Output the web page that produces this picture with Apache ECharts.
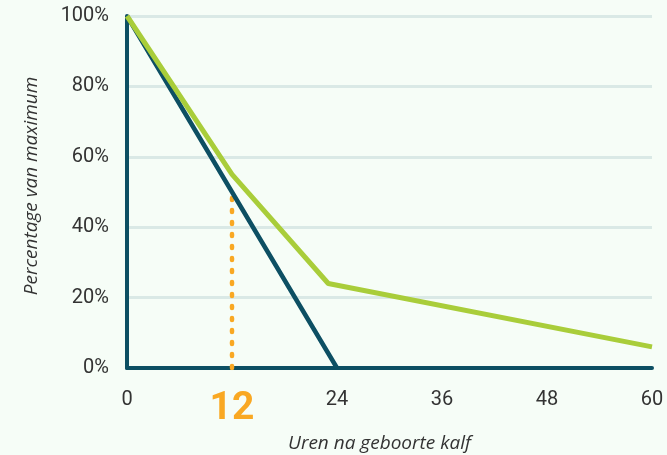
<!DOCTYPE html>
<html><head><meta charset="utf-8">
<script src="https://cdn.jsdelivr.net/npm/echarts@6/dist/echarts.min.js"></script>
<style>html,body{margin:0;padding:0;background:#f6fdf7;}#c{width:667px;height:455px;}</style>
</head><body><div id="c"></div>
<script>
const xTicks = [0, 12, 24, 36, 48, 60];
const yTicks = [0, 20, 40, 60, 80, 100];
const darkHours = [0, 12, 24];
const darkValues = [100, 50, 0];
const greenHours = [0, 12, 23, 60];
const greenValues = [100, 55, 24, 6];
const markerHour = 12;
const markerValues = [0, 49];

const labelFont = "'Roboto', sans-serif";
const chart = echarts.init(document.getElementById('c'));
chart.setOption({
  backgroundColor: '#f6fdf7',
  animation: false,
  grid: {left: 127, right: 15, top: 16, bottom: 87, outerBoundsMode: 'none', containLabel: false},
  xAxis: {
    type: 'value', min: 0, max: 60, interval: 12,
    name: 'Uren na geboorte kalf', nameLocation: 'middle', nameGap: 52,
    nameTextStyle: {fontStyle: 'italic', fontSize: 19, color: '#333', fontFamily: 'Open Sans', padding: [0, 20, 0, 0]},
    axisLine: {show: true, lineStyle: {color: '#0d4f63', width: 4}},
    axisTick: {show: false},
    splitLine: {show: false},
    axisLabel: {
      margin: 22, color: '#333', fontSize: 20, fontFamily: labelFont,
      formatter: v => v === markerHour ? '{o|' + v + '}' : String(v),
      rich: {o: {color: '#f9a823', fontSize: 39, fontWeight: 'bold', fontFamily: 'Roboto'}}
    }
  },
  yAxis: {
    type: 'value', min: 0, max: 100, interval: 20,
    name: 'Percentage van maximum', nameLocation: 'middle', nameGap: 86,
    nameTextStyle: {fontStyle: 'italic', fontSize: 19, color: '#333', fontFamily: 'Open Sans', padding: [0, 0, 0, 12]},
    axisLine: {show: true, lineStyle: {color: '#0d4f63', width: 4}},
    axisTick: {show: false},
    axisLabel: {margin: 18, color: '#333', fontSize: 20, fontFamily: labelFont, formatter: v => v + '%'},
    splitLine: {show: true, lineStyle: {color: '#dae9e6', width: 3}}
  },
  series: [
    {
      type: 'line', data: markerValues.map(v => [markerHour, v]), symbol: 'none',
      lineStyle: {color: '#f9a823', width: 4.5, type: [2, 10], cap: 'round'}, z: 1
    },
    {
      type: 'line', data: greenHours.map((h, i) => [h, greenValues[i]]), symbol: 'none',
      lineStyle: {color: '#a9cd3a', width: 5}, z: 3
    },
    {
      type: 'line', data: darkHours.map((h, i) => [h, darkValues[i]]), symbol: 'none',
      lineStyle: {color: '#0d4f63', width: 4.5}, z: 2
    }
  ]
});
</script></body></html>
